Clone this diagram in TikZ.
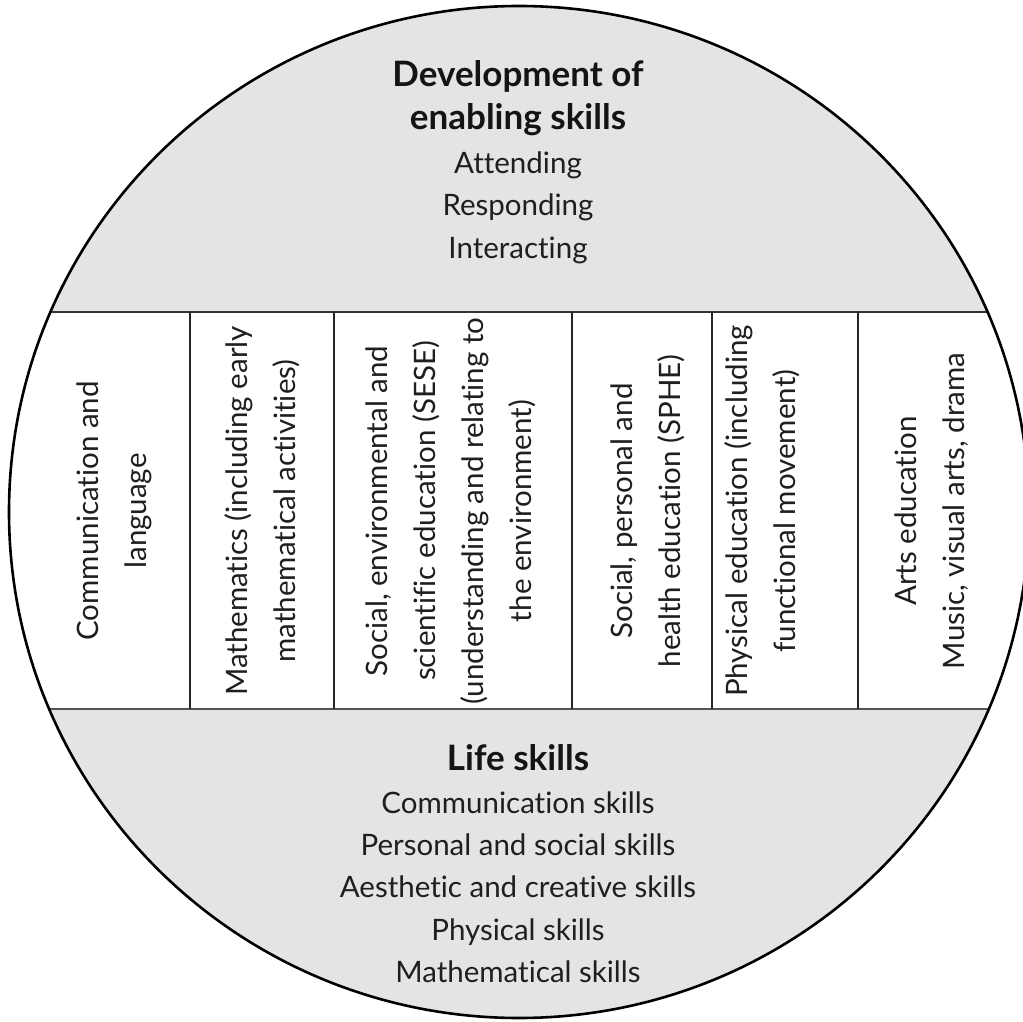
\documentclass[tikz,border=0pt]{standalone}
\usepackage{fontspec}
\setmainfont{Lato}[Ligatures={NoCommon,NoContextual}]
\begin{document}
\begin{tikzpicture}[x=1pt,y=-1pt,
  band/.style={fill=bandgrey},
  heading/.style={anchor=base,font=\fontsize{35}{43}\selectfont\bfseries,text=black!92,inner sep=0pt},
  item/.style={anchor=base,font=\fontsize{29.5}{43}\selectfont,text=black!88,inner sep=0pt},
  subject/.style={rotate=90,align=center,font=\fontsize{29.5}{48}\selectfont,text=black!88,inner sep=0pt},
  divider/.style={draw=black!85,line width=1.3pt},
]
\definecolor{bandgrey}{HTML}{E4E4E4}
\useasboundingbox (0,0) rectangle (1023,1022);

% grey bands clipped to the outer ellipse
\begin{scope}
  \clip (519,512) ellipse [x radius=510,y radius=506];
  \fill[band] (0,0) rectangle (1100,312);
  \fill[band] (0,709) rectangle (1100,1100);
  \draw[draw=black!80,line width=1.3pt] (0,312) -- (1100,312);
  \draw[draw=black!68,line width=2.3pt] (0,709) -- (1100,709);
\end{scope}

% column dividers
\coordinate (d1t) at (190,312); \coordinate (d1b) at (190,709);
\coordinate (d2t) at (334,312); \coordinate (d2b) at (334,709);
\coordinate (d3t) at (572,312); \coordinate (d3b) at (572,709);
\coordinate (d4t) at (712,312); \coordinate (d4b) at (712,709);
\coordinate (d5t) at (858,312); \coordinate (d5b) at (858,709);
\foreach \i in {1,...,5} \draw[divider] (d\i t) -- (d\i b);

% outer ring
\draw[line width=2.6pt] (519,512) ellipse [x radius=510,y radius=506];

% upper band
\node[heading] (h1) at (518,87) {Development of};
\node[heading] (h2) at (518,130) {enabling skills};
\node[item] (e1) at (518,173) {Attending};
\node[item] (e2) at (518,215) {Responding};
\node[item] (e3) at (518,258) {Interacting};

% subject columns
\node[subject] (c1) at (114,511) {Communication and\\language};
\node[subject] (c2) at (262,511) {Mathematics (including early\\mathematical activities)};
\node[subject] (c3) at (451,511) {Social, environmental and\\scientific education (SESE)\\(understanding and relating to\\the environment)};
\node[subject] (c4) at (648,511) {Social, personal and\\health education (SPHE)};
\node[subject] (c5) at (762,511) {Physical education (including\\functional movement)};
\node[subject] (c6) at (932,511) {Arts education\\Music, visual arts, drama};

% lower band
\node[heading] (l0) at (518,770) {Life skills};
\node[item] (l1) at (518,813) {Communication skills};
\node[item] (l2) at (518,855) {Personal and social skills};
\node[item] (l3) at (518,897) {Aesthetic and creative skills};
\node[item] (l4) at (518,940) {Physical skills};
\node[item] (l5) at (518,982) {Mathematical skills};
\end{tikzpicture}
\end{document}
